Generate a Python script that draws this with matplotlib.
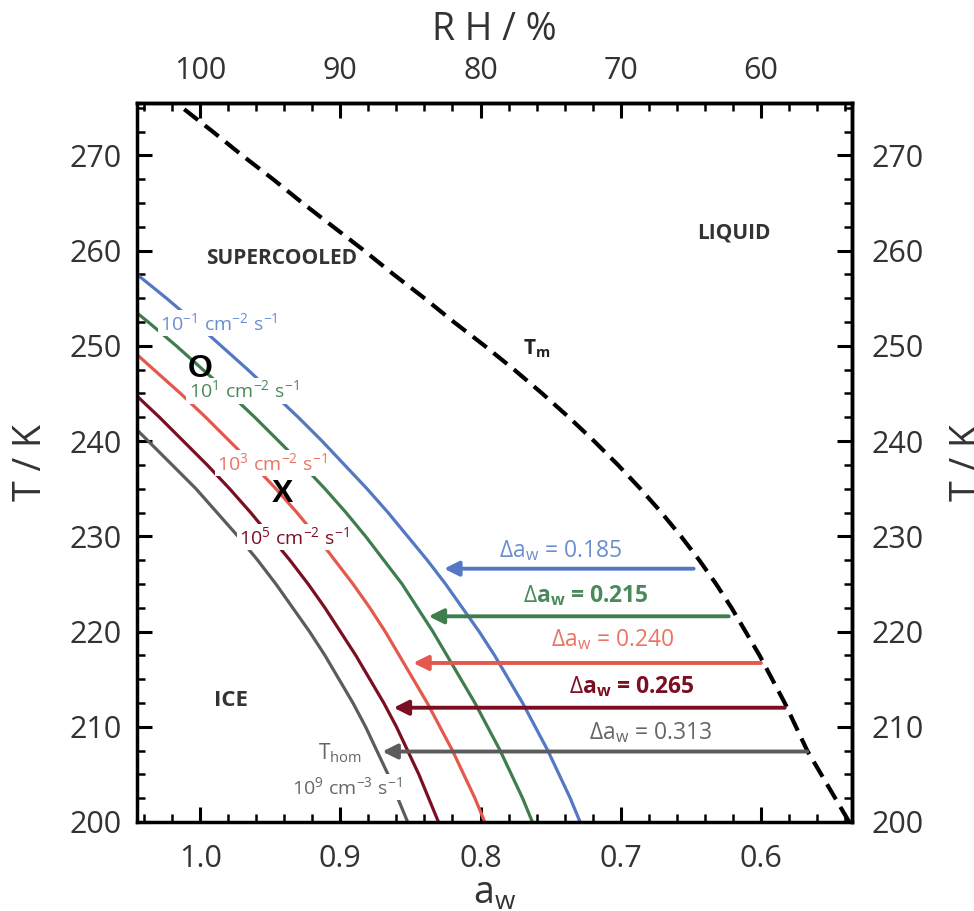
import matplotlib
matplotlib.use("Agg")
import matplotlib.pyplot as plt
from matplotlib.ticker import MultipleLocator

plt.rcParams['font.family'] = ['Open Sans', 'DejaVu Sans']
plt.rcParams['mathtext.fontset'] = 'custom'
plt.rcParams['mathtext.rm'] = 'Open Sans'
plt.rcParams['mathtext.it'] = 'Open Sans:italic'
plt.rcParams['mathtext.bf'] = 'Open Sans:bold'

# melting curve (a_w vs T)
tm_T = [200, 202.5, 205, 207.5, 210, 212.5, 215, 217.5, 220, 222.5, 225, 227.5, 230,
        232.5, 235, 237.5, 240, 242.5, 245, 247.5, 250, 252.5, 255, 257.5, 260,
        262.5, 265, 267.5, 270, 272.5, 275.5]
tm_aw = [0.537, 0.547, 0.557, 0.567, 0.575, 0.583, 0.592, 0.601, 0.611, 0.621, 0.632,
         0.644, 0.657, 0.671, 0.686, 0.702, 0.719, 0.737, 0.756, 0.776, 0.797, 0.819,
         0.840, 0.862, 0.883, 0.905, 0.927, 0.948, 0.970, 0.991, 1.017]

# nucleation curves, read at T = 200, 202.5, 205 ...
curve_T = [200, 202.5, 205, 207.5, 210, 212.5, 215, 217.5, 220, 222.5, 225, 227.5, 230,
           232.5, 235, 237.5, 240, 242.5, 245, 247.5, 250, 252.5, 255, 257.5, 260]
blue_aw = [0.729, 0.736, 0.744, 0.752, 0.761, 0.770, 0.780, 0.790, 0.801, 0.813, 0.825,
           0.838, 0.852, 0.866, 0.881, 0.897, 0.913, 0.930, 0.948, 0.966, 0.985, 1.004,
           1.024, 1.045, 1.066]
green_aw = [0.763, 0.770, 0.778, 0.786, 0.795, 0.804, 0.814, 0.824, 0.834, 0.845, 0.856,
            0.869, 0.882, 0.896, 0.911, 0.927, 0.944, 0.961, 0.979, 0.998, 1.017, 1.037,
            1.058]
red_aw = [0.797, 0.804, 0.812, 0.820, 0.829, 0.838, 0.848, 0.858, 0.868, 0.879, 0.891,
          0.904, 0.917, 0.931, 0.946, 0.962, 0.979, 0.996, 1.014, 1.033, 1.052]
dred_aw = [0.830, 0.837, 0.844, 0.852, 0.860, 0.869, 0.879, 0.889, 0.900, 0.911, 0.923,
           0.936, 0.950, 0.964, 0.979, 0.995, 1.012, 1.029, 1.047]
gray_aw = [0.852, 0.859, 0.866, 0.874, 0.882, 0.891, 0.901, 0.911, 0.922, 0.934, 0.946,
           0.959, 0.973, 0.988, 1.003, 1.020, 1.037, 1.054]

curves = [blue_aw, green_aw, red_aw, dred_aw, gray_aw]
colors = ['#5478c4', '#3f7d4e', '#e5584d', '#7b0f22', '#5c5c5c']
label_colors = ['#6a8ed0', '#4a8a5a', '#ea7464', '#7b0f22', '#666666']

# delta a_w arrows
arrow_T = [226.6, 221.6, 216.7, 212.0, 207.4]
arrow_from = [0.648, 0.623, 0.600, 0.583, 0.567]
arrow_to = [0.826, 0.837, 0.848, 0.862, 0.870]
delta_labels = ['0.185', '0.215', '0.240', '0.265', '0.313']
delta_bold = [False, True, False, True, False]
delta_pos = [(0.743, 228.5), (0.725, 223.8), (0.706, 219.1), (0.692, 214.2), (0.679, 209.4)]

rate_labels = [r'$\mathregular{10^{-1}\ cm^{-2}\ s^{-1}}$',
               r'$\mathregular{10^{1}\ cm^{-2}\ s^{-1}}$',
               r'$\mathregular{10^{3}\ cm^{-2}\ s^{-1}}$',
               r'$\mathregular{10^{5}\ cm^{-2}\ s^{-1}}$']
rate_pos = [(0.9865, 252.4), (0.969, 245.3), (0.949, 237.7), (0.933, 229.9)]

fig = plt.figure(figsize=(9.74, 9.11), dpi=100)
ax = fig.add_axes([0.1407, 0.0977, 0.7341, 0.7892])
ax.set_xlim(1.045, 0.535)
ax.set_ylim(200, 275.5)

ax.plot(tm_aw, tm_T, color='black', lw=3, dashes=(4.2, 2.1), zorder=3)
for aw, c in zip(curves, colors):
    ax.plot(aw, curve_T[:len(aw)], color=c, lw=2.3, zorder=2)

for i in range(5):
    ax.annotate('', xy=(arrow_to[i], arrow_T[i]), xytext=(arrow_from[i], arrow_T[i]),
                arrowprops=dict(arrowstyle='-|>', color=colors[i], lw=2.8,
                                mutation_scale=22, shrinkA=0, shrinkB=0), zorder=4)
    ax.text(delta_pos[i][0], delta_pos[i][1],
            r'$\Delta$a$_\mathregular{w}$ = ' + delta_labels[i],
            color=label_colors[i], fontsize=16.5, ha='center', va='center',
            fontweight='bold' if delta_bold[i] else 'normal')

for (x, y), s, c in zip(rate_pos, rate_labels, label_colors):
    ax.text(x, y, s, color=c, fontsize=14, ha='center', va='center', zorder=5,
            bbox=dict(facecolor='white', edgecolor='none', pad=1.5))

ax.text(0.900, 207.2, r'T$_\mathregular{hom}$', color='#666666', fontsize=15,
        ha='center', va='center', zorder=5)
ax.text(0.895, 203.7, r'$\mathregular{10^{9}\ cm^{-3}\ s^{-1}}$', color='#666666',
        fontsize=14, ha='center', va='center', zorder=5,
        bbox=dict(facecolor='white', edgecolor='none', pad=1.5))

ax.text(0.942, 259.2, 'SUPERCOOLED', fontsize=15, fontweight='bold', color='#333333',
        ha='center', va='center')
ax.text(0.619, 261.8, 'LIQUID', fontsize=15, fontweight='bold', color='#333333',
        ha='center', va='center')
ax.text(0.760, 249.7, r'T$_\mathregular{m}$', fontsize=15, fontweight='bold',
        color='#222222', ha='center', va='center')
ax.text(0.978, 212.8, 'ICE', fontsize=16, fontweight='bold', color='#333333',
        ha='center', va='center')

ax.text(1.0, 247.6, 'O', fontsize=23, fontweight='bold', family='Liberation Sans',
        ha='center', va='center', zorder=6)
ax.text(0.941, 234.4, 'X', fontsize=23, fontweight='bold', family='Liberation Sans',
        ha='center', va='center', zorder=6)

tick_kw = dict(direction='in', colors='black', labelcolor='#333333', labelsize=22)
ax.xaxis.set_minor_locator(MultipleLocator(0.02))
ax.yaxis.set_major_locator(MultipleLocator(10))
ax.yaxis.set_minor_locator(MultipleLocator(2.5))
ax.tick_params(which='major', length=11, width=2.2, pad=11, **tick_kw)
ax.tick_params(which='minor', length=6, width=1.8, direction='in')
ax.tick_params(axis='x', which='major', pad=16)
ax.set_xticks([1.0, 0.9, 0.8, 0.7, 0.6])
ax.set_xticklabels(['1.0', '0.9', '0.8', '0.7', '0.6'])
for s in ax.spines.values():
    s.set_linewidth(2.5)

ax.set_xlabel(r'$\mathregular{a_w}$', fontsize=27, color='#333333', labelpad=0)
ax.set_ylabel('T / K', fontsize=27, color='#333333', labelpad=14)

top = ax.secondary_xaxis('top', functions=(lambda a: a * 100, lambda r: r / 100))
top.set_xticks([100, 90, 80, 70, 60])
top.xaxis.set_minor_locator(MultipleLocator(2))
top.tick_params(which='major', length=11, width=2.2, pad=12, **tick_kw)
top.tick_params(which='minor', length=6, width=1.8, direction='in')
top.set_xlabel('R H / %', fontsize=27, color='#333333', labelpad=12)
top.spines['top'].set_linewidth(2.5)

right = ax.secondary_yaxis('right')
right.yaxis.set_major_locator(MultipleLocator(10))
right.yaxis.set_minor_locator(MultipleLocator(2.5))
right.tick_params(which='major', length=11, width=2.2, pad=14, **tick_kw)
right.tick_params(which='minor', length=6, width=1.8, direction='in')
right.set_ylabel('T / K', fontsize=27, color='#333333', labelpad=18)
right.spines['right'].set_linewidth(2.5)

fig.savefig('out.png', dpi=100)
